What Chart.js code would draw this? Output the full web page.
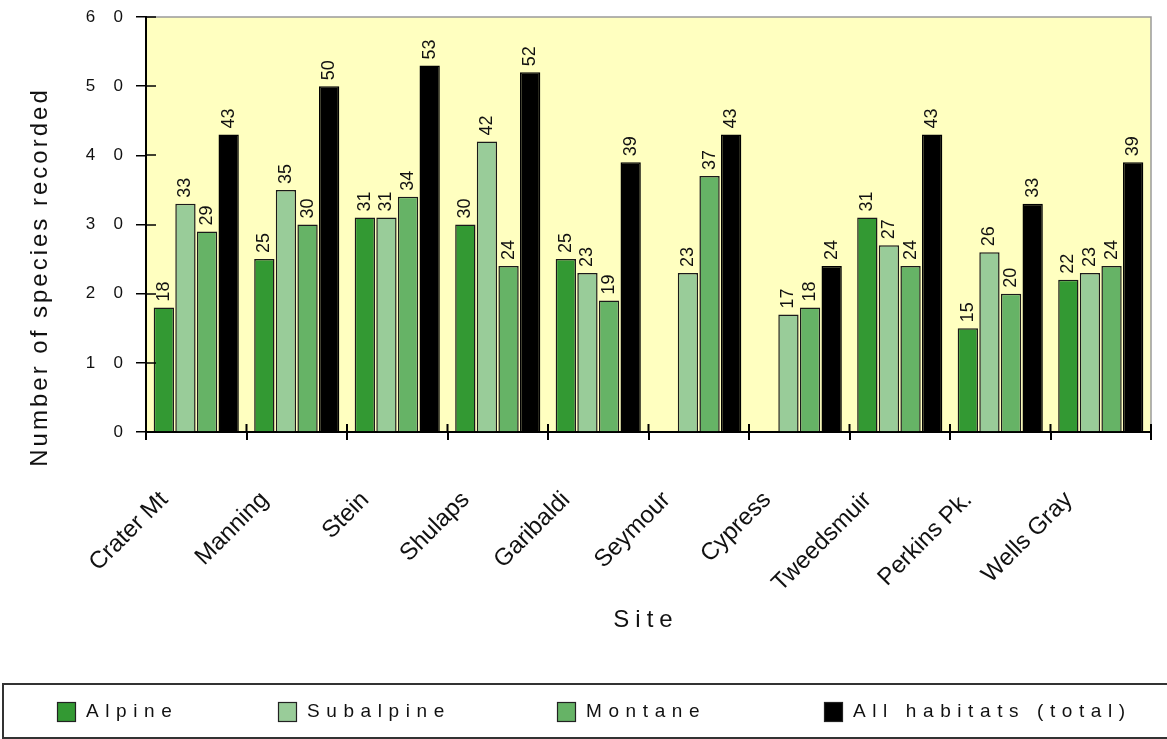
<!DOCTYPE html>
<html><head><meta charset="utf-8">
<script src="https://cdn.jsdelivr.net/npm/chart.js@4/dist/chart.umd.min.js"></script>
<style>html,body{margin:0;padding:0;background:#fff}#wrap{width:1167px;height:739px}</style>
</head><body><div id="wrap"><canvas id="c" width="1167" height="739"></canvas></div>
<script>
const sites = ['Crater Mt','Manning','Stein','Shulaps','Garibaldi','Seymour','Cypress','Tweedsmuir','Perkins Pk.','Wells Gray'];
const alpine = [18,25,31,30,25,null,null,31,15,22];
const subalpine = [33,35,31,42,23,23,17,27,26,23];
const montane = [29,30,34,24,19,37,18,24,20,24];
const total = [43,50,53,52,39,43,24,43,33,39];
const yTicks = [0,10,20,30,40,50,60];
const seriesNames = ['Alpine','Subalpine','Montane','All habitats (total)'];
const seriesColors = ['#339933','#99CC99','#66B366','#000000'];
const legendX = [57,278,557,824];
const FONT = "'Liberation Sans', Arial, sans-serif";

const decor = {
  id:'decor',
  beforeDraw(chart){
    const {ctx, chartArea:a} = chart;
    ctx.save();
    ctx.fillStyle = '#FFFFC0';
    ctx.fillRect(a.left, a.top, a.right-a.left, a.bottom-a.top);
    ctx.strokeStyle = '#9a9a9a'; ctx.lineWidth = 1.5;
    ctx.beginPath(); ctx.moveTo(a.left, a.top); ctx.lineTo(a.right, a.top); ctx.lineTo(a.right, a.bottom); ctx.stroke();
    ctx.restore();
  },
  afterDatasetsDraw(chart){
    const {ctx, chartArea:a, scales} = chart;
    ctx.save();
    ctx.strokeStyle = '#000';
    ctx.lineWidth = 1.5;
    yTicks.forEach(v=>{ const y = Math.round(scales.y.getPixelForValue(v)); ctx.beginPath(); ctx.moveTo(a.left, y); ctx.lineTo(a.left+10, y); ctx.stroke(); });
    ctx.lineWidth = 2;
    for(let i=0;i<=sites.length;i++){ const x = scales.x.getPixelForValue(i-0.5); ctx.beginPath(); ctx.moveTo(x, a.bottom); ctx.lineTo(x, a.bottom-8); ctx.stroke(); }
    ctx.fillStyle = '#111';
    ctx.font = '18px ' + FONT;
    ctx.textAlign = 'left'; ctx.textBaseline = 'middle';
    chart.data.datasets.forEach((ds, di)=>{
      const meta = chart.getDatasetMeta(di);
      meta.data.forEach((el, i)=>{
        const v = ds.data[i];
        if (v === null || v === undefined) return;
        ctx.save();
        ctx.translate(el.x, el.y - 6);
        ctx.rotate(-Math.PI/2);
        ctx.fillText(String(v), 0, 0);
        ctx.restore();
      });
    });
    ctx.restore();
  },
  afterDraw(chart){
    const {ctx} = chart;
    ctx.save();
    ctx.fillStyle = '#111';
    ctx.font = '24px ' + FONT;
    ctx.letterSpacing = '3px';
    ctx.textAlign = 'center'; ctx.textBaseline = 'middle';
    ctx.translate(40, 277); ctx.rotate(-Math.PI/2);
    ctx.fillText('Number of species recorded', 0, 0);
    ctx.restore();
    ctx.save();
    ctx.fillStyle = '#111';
    ctx.font = '24px ' + FONT;
    ctx.letterSpacing = '6px';
    ctx.textAlign = 'center'; ctx.textBaseline = 'alphabetic';
    ctx.fillText('Site', 646, 627);
    ctx.letterSpacing = '0px';
    ctx.strokeStyle = '#333'; ctx.lineWidth = 2;
    ctx.strokeRect(3, 684, 1170, 54);
    ctx.font = '19px ' + FONT;
    ctx.letterSpacing = '6.6px';
    ctx.textAlign = 'left'; ctx.textBaseline = 'middle';
    chart.data.datasets.forEach((ds, i)=>{
      const x = legendX[i];
      ctx.fillStyle = ds.backgroundColor;
      ctx.fillRect(x, 702, 19, 20);
      ctx.strokeStyle = '#222'; ctx.lineWidth = 1.2;
      ctx.strokeRect(x+0.5, 702.5, 18, 19);
      ctx.fillStyle = '#111';
      ctx.fillText(ds.label, x+29, 712);
    });
    ctx.restore();
  }
};

const datasets = [alpine, subalpine, montane, total].map((d,i)=>({
  label: seriesNames[i], data: d,
  backgroundColor: seriesColors[i],
  borderColor: i===3 ? '#000' : '#1a1a1a',
  borderWidth: 1.5,
  categoryPercentage: 0.86, barPercentage: 0.94
}));

new Chart(document.getElementById('c'), {
  type:'bar',
  data:{ labels: sites, datasets },
  options:{
    responsive:false, animation:false, devicePixelRatio:1,
    layout:{ padding:{ top:17, right:16, left:0, bottom:0 } },
    plugins:{ legend:{display:false}, title:{display:false}, tooltip:{enabled:false} },
    scales:{
      x:{
        offset:true,
        grid:{ offset:true, drawOnChartArea:false, tickLength:8, color:'#000', lineWidth:2 },
        border:{ color:'#000', width:2 },
        ticks:{ font:{family:FONT, size:24}, color:'#111', maxRotation:45, minRotation:45, padding:46, labelOffset:-32, autoSkip:false },
        afterFit(s){ s.height = 307; s.paddingLeft = 0; s.paddingRight = 0; }
      },
      y:{
        min:0, max:60,
        afterBuildTicks(s){ s.ticks = yTicks.map(v=>({value:v})); },
        grid:{ drawOnChartArea:false, tickLength:10, color:'#000', lineWidth:1.5 },
        border:{ color:'#000', width:2 },
        ticks:{ font:{family:FONT, size:17}, color:'#111', padding:13,
          callback:(v)=>String(v).split('').join('\u2003\u200A') },
        afterFit(s){ s.width = 146; s.paddingTop = 0; s.paddingBottom = 0; }
      }
    }
  },
  plugins:[decor]
});
</script></body></html>
